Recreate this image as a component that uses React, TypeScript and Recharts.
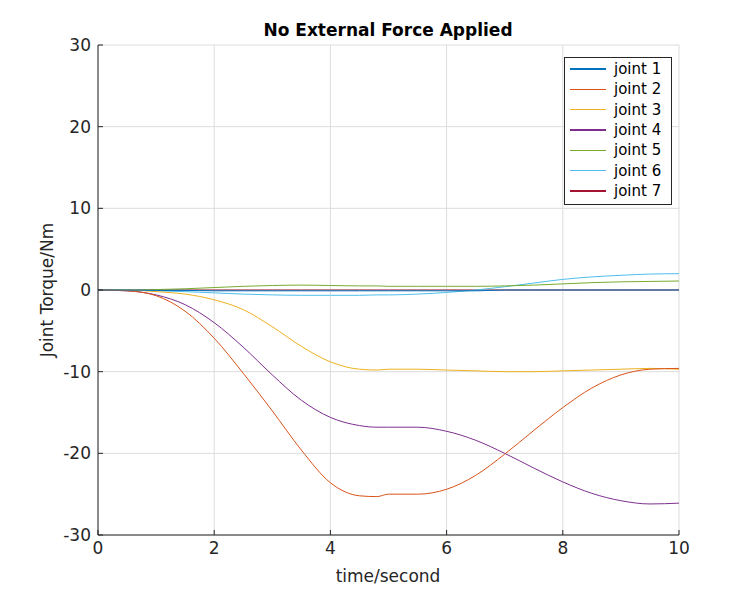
import { LineChart, Line, XAxis, YAxis, CartesianGrid } from "recharts"

const time = [0, 0.5, 1, 1.5, 2, 2.5, 3, 3.5, 4, 4.5, 4.8, 5, 5.5, 6, 6.5, 7, 7.5, 8, 8.5, 9, 9.5, 10]
const joint1 = [0, 0, -0.05, -0.05, -0.1, -0.1, -0.1, -0.1, -0.1, -0.1, -0.1, -0.1, -0.1, -0.1, -0.1, 0, 0, 0, 0, 0, 0, 0]
const joint2 = [0, -0.1, -0.7, -2.6, -5.9, -10.2, -14.8, -19.6, -23.6, -25.2, -25.3, -25.0, -25.0, -24.4, -22.7, -20.1, -17.2, -14.4, -12.0, -10.4, -9.7, -9.6]
const joint3 = [0, 0, -0.2, -0.5, -1.2, -2.4, -4.5, -6.9, -8.8, -9.7, -9.8, -9.7, -9.7, -9.8, -9.9, -10.0, -10.0, -9.9, -9.8, -9.7, -9.6, -9.7]
const joint4 = [0, -0.1, -0.6, -1.8, -4.0, -7.0, -10.4, -13.5, -15.6, -16.6, -16.8, -16.8, -16.8, -17.3, -18.4, -20.0, -21.8, -23.5, -24.9, -25.8, -26.2, -26.1]
const joint5 = [0, 0, 0.05, 0.15, 0.3, 0.45, 0.55, 0.6, 0.55, 0.5, 0.5, 0.45, 0.45, 0.45, 0.45, 0.5, 0.6, 0.75, 0.9, 1.0, 1.05, 1.1]
const joint6 = [0, 0, -0.1, -0.2, -0.35, -0.5, -0.6, -0.65, -0.65, -0.65, -0.6, -0.6, -0.5, -0.3, 0, 0.4, 0.85, 1.3, 1.6, 1.8, 1.95, 2.0]
const joint7 = [0, 0, 0, 0, 0, 0, 0, 0, 0, 0, 0, 0, 0, 0, 0, 0, 0, 0, 0, 0, 0, 0]

const xTicks = [0, 2, 4, 6, 8, 10]
const yTicks = [-30, -20, -10, 0, 10, 20, 30]

const series = [
  { key: "j1", name: "joint 1", color: "#0072BD", values: joint1 },
  { key: "j2", name: "joint 2", color: "#D95319", values: joint2 },
  { key: "j3", name: "joint 3", color: "#EDB120", values: joint3 },
  { key: "j4", name: "joint 4", color: "#7E2F8E", values: joint4 },
  { key: "j5", name: "joint 5", color: "#77AC30", values: joint5 },
  { key: "j6", name: "joint 6", color: "#4DBEEE", values: joint6 },
  { key: "j7", name: "joint 7", color: "#A2142F", values: joint7 },
]

const data = time.map((t, i) => {
  const row: Record<string, number> = { t }
  series.forEach((s) => (row[s.key] = s.values[i]))
  return row
})

// draw joint 1 last so the zero line reads blue, as in the original
const drawOrder = [...series.slice(1).reverse(), series[0]]

const font = "'DejaVu Sans', sans-serif"
const tick = { fontSize: 17, fill: "#262626", fontFamily: font }

export default function App() {
  return (
    <div style={{ position: "relative", width: 750, height: 600, margin: -8, background: "#fff", fontFamily: font }}>
      <LineChart width={750} height={600} data={data} margin={{ top: 45, right: 71, bottom: 35, left: 40 }}>
        <CartesianGrid stroke="#dcdcdc" />
        <XAxis dataKey="t" type="number" domain={[0, 10]} ticks={xTicks} tick={tick} stroke="#262626" tickSize={-5} tickMargin={12} height={30} />
        <XAxis xAxisId="top" orientation="top" dataKey="t" type="number" domain={[0, 10]} ticks={xTicks} tick={false} stroke="#262626" tickSize={-5} height={0} />
        <YAxis type="number" domain={[-30, 30]} ticks={yTicks} tick={tick} stroke="#262626" tickSize={-5} tickMargin={12} width={58} />
        <YAxis yAxisId="right" orientation="right" type="number" domain={[-30, 30]} ticks={yTicks} tick={false} stroke="#262626" tickSize={-5} width={0} />
        {drawOrder.map((s) => (
          <Line key={s.key} dataKey={s.key} stroke={s.color} strokeWidth={1} dot={false} type="monotone" isAnimationActive={false} />
        ))}
      </LineChart>
      <div style={{ position: "absolute", left: 0, width: 776, top: 20, textAlign: "center", fontWeight: "bold", fontSize: 17 }}>
        No External Force Applied
      </div>
      <div style={{ position: "absolute", left: 388, width: 0, top: 566, display: "flex", justifyContent: "center", fontSize: 17, color: "#262626", whiteSpace: "nowrap" }}>
        time/second
      </div>
      <div style={{ position: "absolute", left: 47, top: 290, transform: "translate(-50%, -50%) rotate(-90deg)", fontSize: 17, color: "#262626", whiteSpace: "nowrap" }}>
        Joint Torque/Nm
      </div>
      <div style={{ position: "absolute", left: 564, top: 57, width: 106, height: 144, border: "1px solid #262626", background: "#fff", fontSize: 15, padding: "1px 0" }}>
        {series.map((s) => (
          <div key={s.key} style={{ display: "flex", alignItems: "center", height: 20.3 }}>
            <div style={{ width: 36, height: 1.5, background: s.color, margin: "0 8px 0 5px" }} />
            <span>{s.name}</span>
          </div>
        ))}
      </div>
    </div>
  )
}
